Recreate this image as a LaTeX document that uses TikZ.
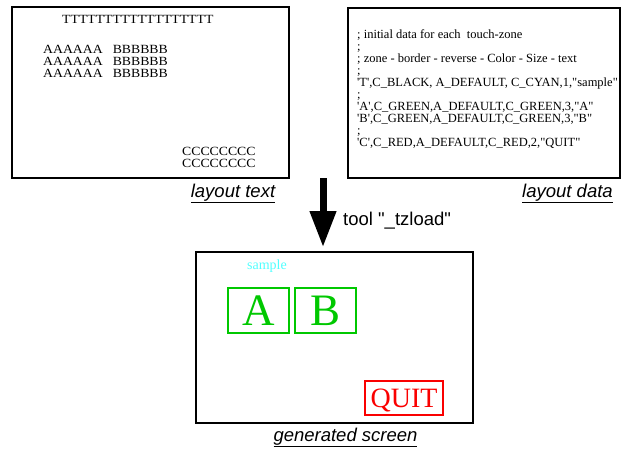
\documentclass[tikz,border=0pt]{standalone}
\usepackage{fontspec}
\setmainfont{Liberation Serif}[Ligatures=TeXOff]
\newfontfamily\labfont{Liberation Sans}[Ligatures=TeXOff]
\newfontfamily\wideserif{Liberation Serif}[Ligatures=TeXOff, FakeStretch=1.1]
\usetikzlibrary{arrows.meta}
\definecolor{zgreen}{RGB}{0,200,0}
\definecolor{zred}{RGB}{250,0,0}
\definecolor{zcyan}{RGB}{80,255,255}
\tikzset{
  bigbox/.style={draw=black, line width=1.7pt, rectangle, inner sep=0pt},
  caption/.style={font=\labfont\itshape\fontsize{18.5}{20}\selectfont, anchor=base, inner sep=0pt},
  toollabel/.style={font=\labfont\fontsize{18.5}{20}\selectfont, anchor=base west, inner sep=0pt},
  lay/.style={font=\wideserif\fontsize{12.5}{12}\selectfont, anchor=base west, inner sep=0pt, align=left},
  dat/.style={font=\fontsize{12.5}{11.9}\selectfont, anchor=base west, inner sep=0pt, align=left},
  zone/.style={draw, line width=1.4pt, rectangle, inner sep=0pt, text depth=0pt},
  bigarrow/.style={line width=7pt, -{Triangle[length=36pt,width=25pt]}},
}
\newcommand{\abrow}{AAAAAA\hspace{10pt}BBBBBB}
\begin{document}
\begin{tikzpicture}[x=1pt,y=-1pt]
\useasboundingbox (0,0) rectangle (624,448);
% layout text box
\node[bigbox, minimum width=277pt, minimum height=171pt] (ltext) at (150.5,92.5) {};
\node[lay] (tt) at (62,23) {TTTTTTTTTTTTTTTTTT};
\node[lay] (ab) at (43,77) {\abrow\\\abrow\\\abrow};
\node[lay] (cc) at (182,167) {CCCCCCCC\\CCCCCCCC};
\node[caption] (cap1) at (233,197) {\underline{layout text}};
% layout data box
\node[bigbox, minimum width=272pt, minimum height=170pt] (ldata) at (484,93) {};
\node[dat] (data) at (357,146) {; initial data for each\ \ touch-zone\\
;\\
; zone - border - reverse - Color - Size - text\\
;\\
'T',C\_BLACK, A\_DEFAULT, C\_CYAN,1,"sample"\\
;\\
'A',C\_GREEN,A\_DEFAULT,C\_GREEN,3,"A"\\
'B',C\_GREEN,A\_DEFAULT,C\_GREEN,3,"B"\\
;\\
'C',C\_RED,A\_DEFAULT,C\_RED,2,"QUIT"};
\node[caption] (cap2) at (567.5,197) {\underline{layout data}};
% generated screen
\node[bigbox, minimum width=277pt, minimum height=171pt] (screen) at (334.5,337.5) {};
\node[font=\fontsize{14}{14}\selectfont, text=zcyan, anchor=base, inner sep=0pt] (sample) at (267,269) {sample};
\node[zone, draw=zgreen, text=zgreen, minimum width=61pt, minimum height=45pt, font=\fontsize{45}{45}\selectfont] (za) at (258.5,310.5) {A};
\node[zone, draw=zgreen, text=zgreen, minimum width=61pt, minimum height=45pt, font=\fontsize{45}{45}\selectfont] (zb) at (325.5,310.5) {B};
\node[zone, draw=zred, text=zred, minimum width=78pt, minimum height=34pt, font=\fontsize{28}{28}\selectfont] (zq) at (404,398) {QUIT};
\node[caption] (cap3) at (345.5,441) {\underline{generated screen}};
% arrow
\coordinate (astart) at (323,178);
\draw[bigarrow, shorten >=4pt] (astart) -- (astart |- screen.north);
\node[toollabel] (tool) at (343,225) {tool "\_tzload"};
\end{tikzpicture}
\end{document}
